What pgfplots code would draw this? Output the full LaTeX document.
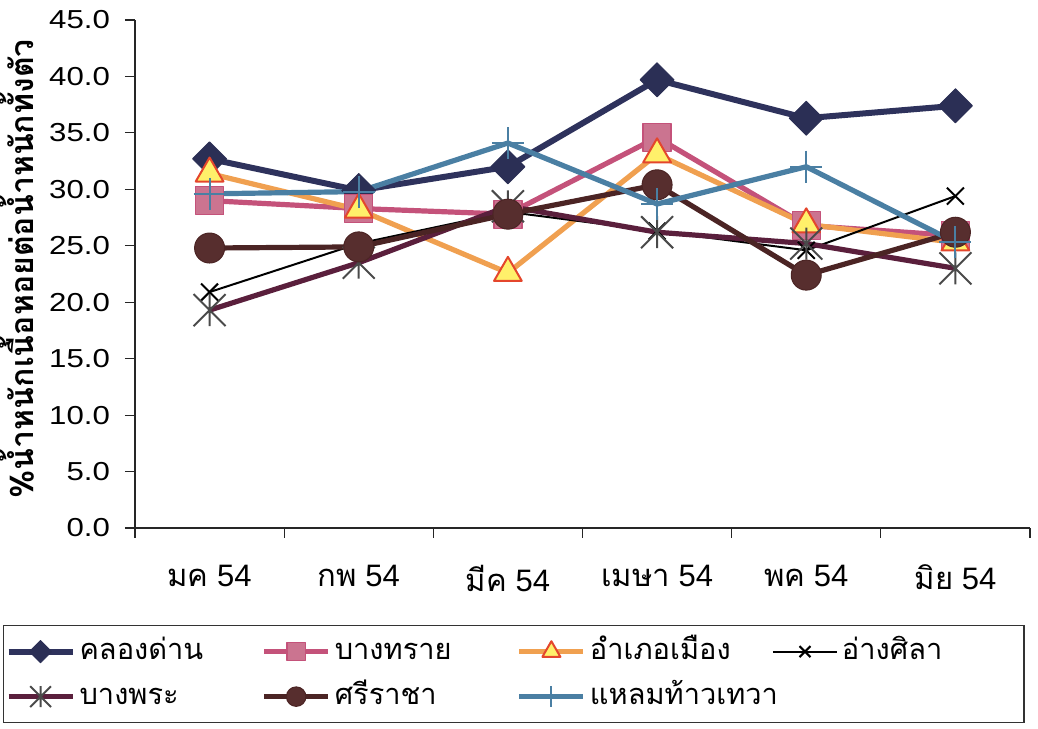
\documentclass[border=0pt]{standalone}
\usepackage{fontspec}
\setmainfont{Liberation Sans}
\newfontfamily\widefont[FakeStretch=1.2]{Liberation Sans}
\newfontfamily\thaifont[Script=Thai]{Loma}
\usepackage{pgfplots}
\pgfplotsset{compat=1.18}

% series colours
\definecolor{cNavy}{HTML}{2E325C}
\definecolor{cNavyF}{HTML}{2B2F55}
\definecolor{cPink}{HTML}{C4527A}
\definecolor{cPinkF}{HTML}{CB7490}
\definecolor{cOrange}{HTML}{F0A050}
\definecolor{cYellow}{HTML}{FFF06A}
\definecolor{cRed}{HTML}{E4462C}
\definecolor{cMaroon}{HTML}{5A1F3C}
\definecolor{cStar}{HTML}{4A4A4A}
\definecolor{cBrown}{HTML}{4B2424}
\definecolor{cBrownF}{HTML}{572E2E}
\definecolor{cBlue}{HTML}{4A7FA3}

% star mark: an X with a vertical stroke through it
\pgfdeclareplotmark{xstar}{%
  \pgfpathmoveto{\pgfqpoint{0pt}{\pgfplotmarksize}}%
  \pgfpathlineto{\pgfqpoint{0pt}{-\pgfplotmarksize}}%
  \pgfpathmoveto{\pgfqpoint{-\pgfplotmarksize}{-\pgfplotmarksize}}%
  \pgfpathlineto{\pgfqpoint{\pgfplotmarksize}{\pgfplotmarksize}}%
  \pgfpathmoveto{\pgfqpoint{-\pgfplotmarksize}{\pgfplotmarksize}}%
  \pgfpathlineto{\pgfqpoint{\pgfplotmarksize}{-\pgfplotmarksize}}%
  \pgfusepathqstroke}

\newcommand\legtext[1]{\makebox[90pt][l]{#1}}

\begin{document}
\begin{tikzpicture}
\begin{axis}[
  scale only axis, width=447.5pt, height=254pt,
  xmin=-0.5, xmax=5.5, ymin=0, ymax=45,
  axis x line*=bottom, axis y line*=left,
  axis line style={line width=0.6pt, black!85},
  tick style={line width=0.6pt, black!85},
  tick align=outside,
  major tick length=5pt, minor tick length=5pt,
  xtick={0,...,5},
  xticklabels={{\thaifont มค} 54,{\thaifont กพ} 54,{\thaifont มีค} 54,{\thaifont เมษา} 54,{\thaifont พค} 54,{\thaifont มิย} 54},
  major x tick style={draw=none},
  minor xtick={-0.5,0.5,...,5.5},
  ytick={0,5,...,45},
  xticklabel style={font=\fontsize{15.5}{18}\selectfont, yshift=-10pt},
  yticklabel shift=4pt,
  yticklabel style={font=\widefont\fontsize{13}{16}\selectfont,
    /pgf/number format/.cd,fixed,fixed zerofill,precision=1,assume math mode=true},
  ylabel={\thaifont\bfseries\%น้ำหนักเนื้อหอยต่อน้ำหนักทั้งตัว},
  ylabel style={at={(axis description cs:-0.132,0.51)}, anchor=center, font=\fontsize{16}{18}\selectfont},
  clip=false,
  every axis plot/.append style={line join=round},
  legend columns=4,
  legend cell align=left,
  legend image code/.code={\draw[mark repeat=2,mark phase=2,every mark/.append style={scale=0.65}] plot coordinates {(0pt,0pt) (16pt,0pt) (32pt,0pt)};},
  legend style={at={(axis description cs:-0.1475,-0.191)}, anchor=north west,
    draw=black!80, line width=0.6pt, inner xsep=1pt, inner ysep=5pt,
    font=\thaifont\fontsize{14.5}{17}\selectfont,
    nodes={inner sep=0pt, text height=12pt, text depth=4pt},
    row sep=6.5pt,
    /tikz/every odd column/.append style={column sep=2pt},
    /tikz/every even column/.append style={column sep=1pt}},
]
% frame of the whole figure, relative to the plot area
\coordinate (figSW) at (rel axis cs:-0.15084,-0.39567);
\coordinate (figNE) at (rel axis cs:1.00894,1.03937);
% คลองด่าน
\addplot[color=cNavy, line width=3pt, mark=square*, mark size=6pt,
  mark options={rotate=45, fill=cNavyF, draw=cNavyF, line width=0.5pt}]
  coordinates {(0,32.7) (1,29.9) (2,32.0) (3,39.7) (4,36.3) (5,37.4)};
\addlegendentry{\legtext{คลองด่าน}}
% บางทราย
\addplot[color=cPink, line width=2.6pt, mark=square*, mark size=7pt,
  mark options={fill=cPinkF, draw=cPink, line width=0.6pt}]
  coordinates {(0,29.0) (1,28.3) (2,27.8) (3,34.6) (4,26.8) (5,25.9)};
\addlegendentry{\legtext{บางทราย}}
% อำเภอเมือง
\addplot[color=cOrange, line width=2.6pt, mark=triangle*, mark size=8pt,
  mark options={fill=cYellow, draw=cRed, line width=1pt}]
  coordinates {(0,31.4) (1,28.2) (2,22.6) (3,33.1) (4,26.9) (5,25.3)};
\addlegendentry{\legtext{อำเภอเมือง}}
% อ่างศิลา
\addplot[color=black, line width=1pt, mark=x, mark size=6pt,
  mark options={line width=1pt}]
  coordinates {(0,20.9) (1,25.2) (2,28.0) (3,26.3) (4,24.6) (5,29.4)};
\addlegendentry{\legtext{อ่างศิลา}}
% บางพระ
\addplot[color=cMaroon, line width=2.6pt, mark=xstar, mark size=8pt,
  mark options={draw=cStar, line width=1pt}]
  coordinates {(0,19.3) (1,23.5) (2,28.5) (3,26.2) (4,25.2) (5,23.0)};
\addlegendentry{\legtext{บางพระ}}
% ศรีราชา
\addplot[color=cBrown, line width=2.6pt, mark=*, mark size=7.5pt,
  mark options={fill=cBrownF, draw=cBrown, line width=0.5pt}]
  coordinates {(0,24.8) (1,24.9) (2,27.8) (3,30.4) (4,22.4) (5,26.2)};
\addlegendentry{\legtext{ศรีราชา}}
% แหลมท้าวเทวา
\addplot[color=cBlue, line width=2.6pt, mark=+, mark size=8pt,
  mark options={draw=cBlue, line width=1pt}]
  coordinates {(0,29.6) (1,29.8) (2,34.1) (3,28.7) (4,32.0) (5,25.3)};
\addlegendentry{\legtext{แหลมท้าวเทวา}}
\end{axis}
\pgfresetboundingbox
\useasboundingbox (figSW) rectangle (figNE);
\end{tikzpicture}
\end{document}
